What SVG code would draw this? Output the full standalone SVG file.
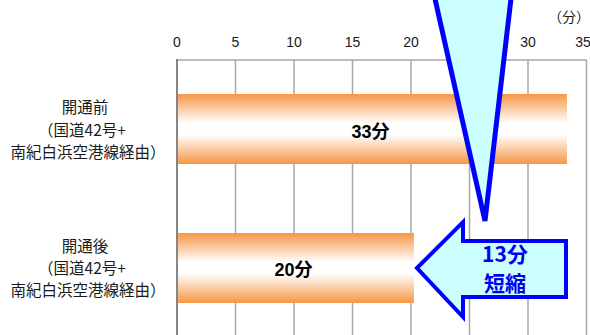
<svg xmlns="http://www.w3.org/2000/svg" width="590" height="335" viewBox="0 0 590 335">
<defs>
<linearGradient id="barg" x1="0" y1="0" x2="0" y2="1">
<stop offset="0" stop-color="#F79646"/>
<stop offset="0.42" stop-color="#FFFFFF"/>
<stop offset="0.58" stop-color="#FFFFFF"/>
<stop offset="1" stop-color="#F79646"/>
</linearGradient>
<style>
.tick{font-family:"Liberation Sans","Noto Sans CJK JP",sans-serif;font-size:14px;fill:#1a1a1a;text-anchor:middle}
.cat{font-family:"Noto Sans CJK JP","Liberation Sans",sans-serif;font-size:15.5px;fill:#1a1a1a;text-anchor:middle}
.val{font-family:"Liberation Sans","Noto Sans CJK JP",sans-serif;font-size:18px;font-weight:bold;fill:#000;text-anchor:middle}
.grid{stroke:#A6A6A6;stroke-width:1.5;fill:none}
.call{fill:#CCFFFF;stroke:#0000FF;stroke-linejoin:miter}
.callt{font-family:"Noto Sans CJK JP","Liberation Sans",sans-serif;font-size:21px;font-weight:bold;fill:#0000EE;text-anchor:middle}
</style>
</defs>
<rect width="590" height="335" fill="#FFFFFF"/>
<g id="axis">
<text class="tick" x="177" y="47">0</text>
<text class="tick" x="235.5" y="47">5</text>
<text class="tick" x="294" y="47">10</text>
<text class="tick" x="352.5" y="47">15</text>
<text class="tick" x="411" y="47">20</text>
<text class="tick" x="469.5" y="47">25</text>
<text class="tick" x="528" y="47">30</text>
<text class="tick" x="583" y="47">35</text>
<text class="tick" x="569" y="22">（分）</text>
<path class="grid" d="M235.5 60V335M294 60V335M352.5 60V335M411 60V335M469.5 60V335M528 60V335M586.5 60V335M177 60H586.5"/>
<path d="M177 59V335" stroke="#868686" stroke-width="2"/>
</g>
<g id="bar-before">
<rect x="178" y="94" width="389" height="70" fill="url(#barg)"/>
<text class="val" x="370.5" y="138">33分</text>
</g>
<g id="bar-after">
<rect x="178" y="233" width="236" height="70" fill="url(#barg)"/>
<text class="val" x="293.5" y="276">20分</text>
</g>
<g id="label-before">
<text class="cat" x="85" y="113">開通前</text>
<text class="cat" x="82" y="136">（国道42号+</text>
<text class="cat" x="88" y="158">南紀白浜空港線経由）</text>
</g>
<g id="label-after">
<text class="cat" x="85" y="252">開通後</text>
<text class="cat" x="82" y="274">（国道42号+</text>
<text class="cat" x="88" y="296">南紀白浜空港線経由）</text>
</g>
<g id="connectors">
<path id="pointer" class="call" stroke-width="5" d="M433 -10L485 221L512 -10Z"/>
</g>
<g id="reduction">
<path class="call" stroke-width="4" d="M417 268L463 222V241H566V297H463V317Z"/>
<text class="callt" x="505" y="262">13分</text>
<text class="callt" x="505" y="291">短縮</text>
</g>
</svg>
